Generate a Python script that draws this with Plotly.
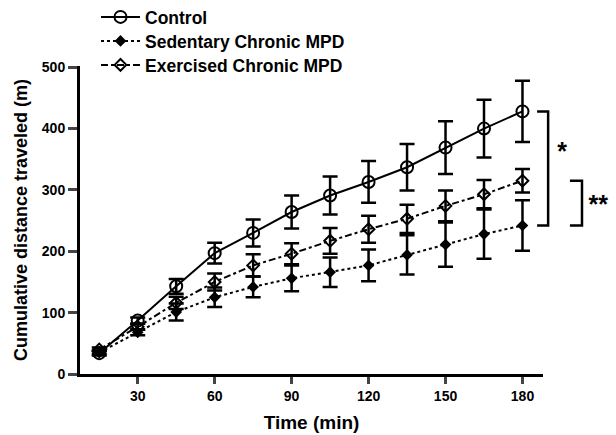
import plotly.graph_objects as go

# ---- data ----
time_min = [15, 30, 45, 60, 75, 90, 105, 120, 135, 150, 165, 180]
control = [34, 87, 143, 197, 230, 264, 291, 313, 337, 369, 400, 428]
control_sem = [4, 5, 12, 17, 22, 27, 31, 34, 38, 43, 47, 50]
sedentary = [35, 68, 101, 125, 142, 156, 166, 177, 194, 211, 228, 242]
sedentary_sem = [3, 5, 14, 16, 17, 21, 24, 26, 32, 36, 40, 41]
exercised = [40, 77, 116, 150, 177, 196, 217, 236, 253, 274, 293, 315]
exercised_sem = [3, 5, 10, 14, 18, 17, 21, 22, 23, 25, 23, 19]
x_ticks = [30, 60, 90, 120, 150, 180]
y_ticks = [0, 100, 200, 300, 400, 500]
series_names = ["Control", "Sedentary Chronic MPD", "Exercised Chronic MPD"]

FONT = "Arial, Liberation Sans, sans-serif"
W, H = 616, 435
ML, MR, MT, MB = 80, 0, 66, 61
x_range = [7.5, 188]
plot_w = W - ML - MR
plot_h = H - MT - MB
main_px = 463  # width of main x axis in px
x_dom = main_px / plot_w
px_per_min = main_px / (x_range[1] - x_range[0])
x2_range = [x_range[0], x_range[0] + plot_w / px_per_min]

def err(arr):
    return dict(type="data", array=arr, visible=True, color="black", thickness=2.5, width=7.5)

fig = go.Figure()
fig.add_trace(go.Scatter(
    x=time_min, y=control, name=series_names[0], mode="lines+markers", legend="legend",
    line=dict(color="black", width=2, dash="solid"),
    marker=dict(symbol="circle-open", size=12, color="black", line=dict(width=2)),
    error_y=err(control_sem), cliponaxis=False))
fig.add_trace(go.Scatter(
    x=time_min, y=sedentary, name=series_names[1], mode="lines+markers", legend="legend2",
    line=dict(color="black", width=2, dash="3px,3px"),
    marker=dict(symbol="diamond", size=9, color="black"),
    error_y=err(sedentary_sem), cliponaxis=False))
fig.add_trace(go.Scatter(
    x=time_min, y=exercised, name=series_names[2], mode="lines+markers", legend="legend3",
    line=dict(color="black", width=2, dash="7px,3px,3px,3px"),
    marker=dict(symbol="diamond-open", size=9, color="black", line=dict(width=2)),
    error_y=err(exercised_sem), cliponaxis=False))

# significance brackets on a helper x axis spanning into the right margin
last = len(time_min) - 1
bx1, bt1 = 190.0, 185.7
bx2, bt2 = 203.2, 198.5
fig.add_trace(go.Scatter(
    x=[bt1, bx1, bx1, bt1], y=[control[last], control[last], sedentary[last], sedentary[last]],
    xaxis="x2", mode="lines", line=dict(color="black", width=2.5), showlegend=False,
    hoverinfo="skip", cliponaxis=False))
fig.add_trace(go.Scatter(
    x=[bt2, bx2, bx2, bt2], y=[exercised[last], exercised[last], sedentary[last], sedentary[last]],
    xaxis="x2", mode="lines", line=dict(color="black", width=2.5), showlegend=False,
    hoverinfo="skip", cliponaxis=False))
fig.add_trace(go.Scatter(
    x=[195.5, 209.5], y=[(control[last] + sedentary[last]) / 2 + 24, (exercised[last] + sedentary[last]) / 2 - 6],
    text=["*", "**"], mode="text", xaxis="x2", showlegend=False, hoverinfo="skip",
    textfont=dict(family=FONT, size=25, color="black"), cliponaxis=False))

legend_rows_px = [17, 41, 65]

def leg(row_px):
    return dict(x=16 / plot_w, y=(H - MB - row_px) / plot_h, xanchor="left", yanchor="middle",
                bgcolor="rgba(0,0,0,0)", font=dict(family=FONT, size=17.5, weight="bold", color="black"),
                itemwidth=39, tracegroupgap=0)

fig.update_layout(
    width=W, height=H,
    margin=dict(l=ML, r=MR, t=MT, b=MB, autoexpand=False),
    paper_bgcolor="white", plot_bgcolor="rgba(0,0,0,0)",
    font=dict(family=FONT, color="black", size=14, weight="bold"),
    showlegend=True,
    legend=leg(legend_rows_px[0]),
    legend2=leg(legend_rows_px[1]),
    legend3=leg(legend_rows_px[2]),
    xaxis=dict(domain=[0, x_dom], range=x_range, tickvals=x_ticks, ticks="outside", ticklen=7,
               tickwidth=3, showline=True, linewidth=3, linecolor="black", showgrid=False,
               zeroline=False, tickfont=dict(size=14, weight="bold"), automargin=False,
               title=dict(text="Time (min)", font=dict(size=19, weight="bold"), standoff=13)),
    xaxis2=dict(domain=[0, 1], range=x2_range, anchor="y", visible=False, showgrid=False),
    yaxis=dict(range=[0, 502], tickvals=y_ticks, ticks="outside", ticklen=9, tickwidth=3,
               showline=True, linewidth=3, linecolor="black", showgrid=False, zeroline=False,
               tickfont=dict(size=14, weight="bold"), automargin=False,
               title=dict(text="Cumulative distance traveled (m)", font=dict(size=18, weight="bold"),
                          standoff=10)),
)

fig.write_html("out.html", config={"displayModeBar": False},
               post_script="document.body.style.margin='0';")
